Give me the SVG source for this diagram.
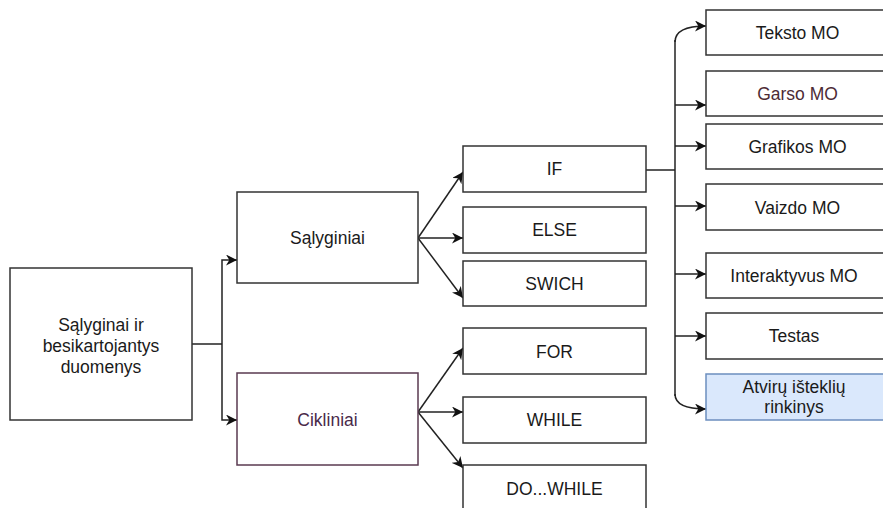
<svg xmlns="http://www.w3.org/2000/svg" width="883" height="508" viewBox="0 0 883 508">
<defs>
<marker id="arr" viewBox="0 0 10 10" refX="10" refY="5" markerWidth="11" markerHeight="11" markerUnits="userSpaceOnUse" orient="auto">
<path d="M0,0 L10,5 L0,10 L3,5 Z" fill="#111"/>
</marker>
<style>
.box{fill:#fff;stroke:#333;stroke-width:1.5}
.t{font-family:"Liberation Sans",Arial,sans-serif;font-size:17.5px;fill:#1a1a1a;text-anchor:middle;dominant-baseline:central}
.c{fill:none;stroke:#222;stroke-width:1.5}
.ca{fill:none;stroke:#222;stroke-width:1.5;marker-end:url(#arr)}
</style>
</defs>
<rect width="883" height="508" fill="#fff"/>
<g id="connectors">
<path class="c" d="M192,344 H222"/>
<path class="ca" d="M222,344 V260 H237"/>
<path class="ca" d="M222,344 V420 H237"/>
<path class="ca" d="M418,238 L463,172"/>
<path class="ca" d="M418,238 L463,238"/>
<path class="ca" d="M418,238 L463,298"/>
<path class="ca" d="M418,412 L463,348"/>
<path class="ca" d="M418,412 L463,412"/>
<path class="ca" d="M418,412 L463,468"/>
<path class="c" d="M646,170 H675"/>
<path class="c" d="M675,40 V396"/>
<path class="ca" d="M675,42 Q675,26 706,26"/>
<path class="ca" d="M675,105 H706"/>
<path class="ca" d="M675,146 H706"/>
<path class="ca" d="M675,206 H706"/>
<path class="ca" d="M675,274 H706"/>
<path class="ca" d="M675,336 H706"/>
<path class="ca" d="M675,394 Q675,409 706,409"/>
</g>
<g id="main"><rect class="box" x="10" y="268" width="182" height="152"/>
<text class="t"><tspan x="101" y="325">Sąlyginai ir</tspan><tspan x="101" y="346">besikartojantys</tspan><tspan x="101" y="367">duomenys</tspan></text></g>
<g id="salyginiai"><rect class="box" x="237" y="192" width="181" height="91"/><text class="t" x="327.5" y="238">Sąlyginiai</text></g>
<g id="cikliniai"><rect class="box" x="237" y="373" width="181" height="92" style="stroke:#5a3a50"/><text class="t" x="327.5" y="420" style="fill:#4a2a4a">Cikliniai</text></g>
<g id="if"><rect class="box" x="463" y="146" width="183" height="46"/><text class="t" x="554.5" y="169">IF</text></g>
<g id="else"><rect class="box" x="463" y="207" width="183" height="46"/><text class="t" x="554.5" y="230">ELSE</text></g>
<g id="swich"><rect class="box" x="463" y="261" width="183" height="45"/><text class="t" x="554.5" y="284">SWICH</text></g>
<g id="for"><rect class="box" x="463" y="328" width="183" height="46"/><text class="t" x="554.5" y="352">FOR</text></g>
<g id="while"><rect class="box" x="463" y="397" width="183" height="46"/><text class="t" x="554.5" y="420">WHILE</text></g>
<g id="dowhile"><rect class="box" x="463" y="465" width="183" height="46"/><text class="t" x="554.5" y="489">DO...WHILE</text></g>
<g id="teksto"><rect class="box" x="706" y="10" width="183" height="45"/><text class="t" x="797.5" y="33">Teksto MO</text></g>
<g id="garso"><rect class="box" x="706" y="71" width="183" height="45"/><text class="t" x="797.5" y="94" style="fill:#4d2b35">Garso MO</text></g>
<g id="grafikos"><rect class="box" x="706" y="124" width="183" height="45"/><text class="t" x="797.5" y="147">Grafikos MO</text></g>
<g id="vaizdo"><rect class="box" x="706" y="184" width="183" height="46"/><text class="t" x="797.5" y="208">Vaizdo MO</text></g>
<g id="interaktyvus"><rect class="box" x="706" y="253" width="183" height="45"/><text class="t" x="794" y="276">Interaktyvus MO</text></g>
<g id="testas"><rect class="box" x="706" y="313" width="183" height="46"/><text class="t" x="794" y="336">Testas</text></g>
<g id="atviru"><rect class="box" x="706" y="374" width="183" height="46" style="fill:#dae8fc;stroke:#6c8ebf"/><text class="t"><tspan x="794" y="387">Atvirų išteklių</tspan><tspan x="794" y="407">rinkinys</tspan></text></g>
</svg>
